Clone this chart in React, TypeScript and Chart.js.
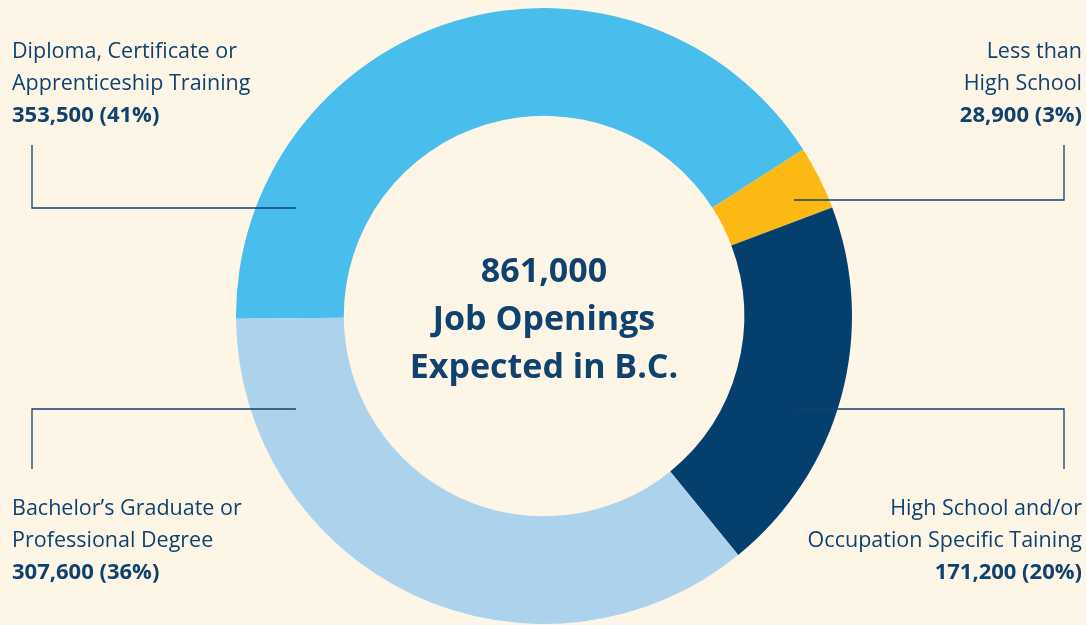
import React, { useEffect, useRef } from "react";
import { Chart, registerables } from "chart.js";

Chart.register(...registerables);

// ---- data ----
const categories = [
  "Diploma, Certificate or Apprenticeship Training",
  "Less than High School",
  "High School and/or Occupation Specific Taining",
  "Bachelor’s Graduate or Professional Degree",
];
const values = [353500, 28900, 171200, 307600];
const percentLabels = ["41%", "3%", "20%", "36%"];
const labelLines = [
  ["Diploma, Certificate or", "Apprenticeship Training"],
  ["Less than", "High School"],
  ["High School and/or", "Occupation Specific Taining"],
  ["Bachelor’s Graduate or", "Professional Degree"],
];
const centerLines = ["861,000", "Job Openings", "Expected in B.C."];

// ---- styles ----
const sliceColors = ["#49BDEC", "#FDB913", "#053F6D", "#ADD3EC"];
const textColor = "#0F426F";
const bgColor = "#FDF6E7";
const FONT = '"Open Sans", "Noto Sans", sans-serif';

// label layout: side, text anchor x, first baseline y, line horizontal y, vertical line y range
const labelLayout = [
  { side: "left", x: 12, y: 58, lineY: 208, vTop: 145 },
  { side: "right", x: 1082, y: 58, lineY: 200, vTop: 145 },
  { side: "right", x: 1082, y: 515, lineY: 409, vTop: 469 },
  { side: "left", x: 12, y: 515, lineY: 409, vTop: 469 },
];
const lineGap = 32;

const fmt = (v: number) => v.toLocaleString("en-US");

const annotationPlugin = {
  id: "annotations",
  afterDraw(chart: any) {
    const { ctx } = chart;
    const meta = chart.getDatasetMeta(0);
    const arc0 = meta.data[0];
    const cx = arc0.x;
    const cy = arc0.y;
    const midR = (arc0.innerRadius + arc0.outerRadius) / 2;
    ctx.save();
    labelLayout.forEach((lay, i) => {
      const endX = lay.side === "left" ? cx - midR + 6 : cx + midR - 4;
      const vx = lay.side === "left" ? 32 : 1064;
      ctx.strokeStyle = textColor;
      ctx.lineWidth = 1.3;
      ctx.beginPath();
      ctx.moveTo(vx, lay.vTop);
      ctx.lineTo(vx, lay.lineY);
      ctx.lineTo(endX, lay.lineY);
      ctx.stroke();

      ctx.fillStyle = textColor;
      ctx.textAlign = lay.side === "left" ? "left" : "right";
      ctx.textBaseline = "alphabetic";
      ctx.font = `400 21.5px ${FONT}`;
      labelLines[i].forEach((t, k) => {
        ctx.fillText(t, lay.x, lay.y + k * lineGap);
      });
      ctx.font = `700 22px ${FONT}`;
      ctx.fillText(
        `${fmt(values[i])} (${percentLabels[i]})`,
        lay.x,
        lay.y + labelLines[i].length * lineGap
      );
    });
    ctx.font = `700 34px ${FONT}`;
    ctx.textAlign = "center";
    ctx.fillStyle = textColor;
    centerLines.forEach((t, k) => {
      ctx.fillText(t, cx, cy - 34 + k * 48);
    });
    ctx.restore();
  },
};

export default function App() {
  const ref = useRef<HTMLCanvasElement>(null);
  useEffect(() => {
    document.body.style.margin = "0";
    document.body.style.background = bgColor;
    const chart = new Chart(ref.current!, {
      type: "doughnut",
      data: {
        labels: categories,
        datasets: [
          {
            data: values,
            backgroundColor: sliceColors,
            borderWidth: 0,
          },
        ],
      },
      options: {
        responsive: false,
        animation: false,
        rotation: -90.5,
        cutout: "65%",
        layout: { padding: { left: 236, right: 234, top: 8, bottom: 1 } },
        plugins: {
          legend: { display: false },
          tooltip: { enabled: false },
        },
      },
      plugins: [annotationPlugin],
    });
    return () => chart.destroy();
  }, []);
  return (
    <div style={{ width: 1086, height: 625, background: bgColor }}>
      <canvas ref={ref} width={1086} height={625} style={{ display: "block" }} />
    </div>
  );
}
